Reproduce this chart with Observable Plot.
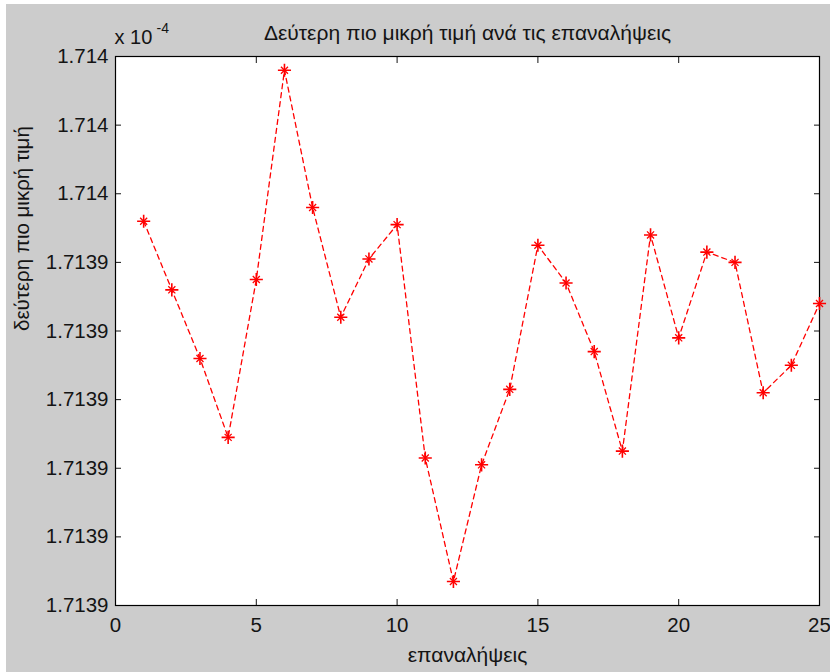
<!DOCTYPE html>
<html>
<head>
<meta charset="utf-8">
<script src="https://cdn.jsdelivr.net/npm/d3@7"></script>
<script src="https://cdn.jsdelivr.net/npm/@observablehq/plot@0.6"></script>
<style>
  html, body { margin: 0; padding: 0; background: #ffffff; width: 830px; height: 672px; overflow: hidden; }
  #bg { position: absolute; left: 6px; top: 4px; width: 824px; height: 668px; background: #cccccc; }
  #chart { position: absolute; left: 0; top: 0; }
</style>
</head>
<body>
<div id="bg"></div>
<div id="chart"></div>
<script>
// ---- data (values in units of 1e-4) ----
const iterations = [1, 2, 3, 4, 5, 6, 7, 8, 9, 10, 11, 12, 13, 14, 15, 16, 17, 18, 19, 20, 21, 22, 23, 24, 25];
const secondSmallest = [
  1.7139502, 1.7139482, 1.7139462, 1.7139439, 1.7139485,
  1.7139546, 1.7139506, 1.7139474, 1.7139491, 1.7139501,
  1.7139433, 1.7139397, 1.7139431, 1.7139453, 1.7139495,
  1.7139484, 1.7139464, 1.7139435, 1.7139498, 1.7139468,
  1.7139493, 1.7139490, 1.7139452, 1.7139460, 1.7139478
];
const xTicks = [0, 5, 10, 15, 20, 25];
const yTicks = [1.713939, 1.713941, 1.713943, 1.713945, 1.713947, 1.713949, 1.713951, 1.713953, 1.713955];
const yTickLabels = ["1.7139", "1.7139", "1.7139", "1.7139", "1.7139", "1.7139", "1.714", "1.714", "1.714"];
const titleText = "Δεύτερη πιο μικρή τιμή ανά τις επαναλήψεις";
const xLabelText = "επαναλήψεις";
const yLabelText = "δεύτερη πιο μικρή τιμή";
const exponentBase = "x 10";
const exponentPower = "-4";

const data = iterations.map((it, i) => ({it, v: secondSmallest[i]}));

const font = "'Liberation Sans', Arial, Helvetica, sans-serif";
const ink = "#141414";
const red = "#ff0000";

const chart = Plot.plot({
  width: 830,
  height: 672,
  marginLeft: 115,
  marginRight: 11,
  marginTop: 56,
  marginBottom: 67,
  style: {background: "transparent", fontFamily: font, fontSize: "20px", color: ink, overflow: "visible"},
  x: {domain: [0, 25]},
  y: {domain: [yTicks[0], yTicks[yTicks.length - 1]]},
  marks: [
    Plot.frame({fill: "white"}),
    // inward ticks on all four sides
    Plot.axisX({anchor: "bottom", ticks: xTicks, tickSize: 6, dy: -6, tickFormat: () => "", label: null, stroke: ink}),
    Plot.axisX({anchor: "top", ticks: xTicks, tickSize: 6, dy: 6, tickFormat: () => "", label: null, stroke: ink}),
    Plot.axisY({anchor: "left", ticks: yTicks, tickSize: 6, dx: 6, tickFormat: () => "", label: null, stroke: ink}),
    Plot.axisY({anchor: "right", ticks: yTicks, tickSize: 6, dx: -6, tickFormat: () => "", label: null, stroke: ink}),
    // tick labels
    Plot.axisX({anchor: "bottom", ticks: xTicks, tickSize: 0, tickPadding: 12, fontSize: 20.5, fill: ink, label: null, tickFormat: d => String(d)}),
    Plot.axisY({anchor: "left", ticks: yTicks, tickSize: 0, tickPadding: 7, fontSize: 20.5, fill: ink, label: null,
      tickFormat: d => yTickLabels[yTicks.indexOf(d)]}),
    Plot.frame({stroke: "black", strokeWidth: 1.2}),
    // data
    Plot.line(data, {x: "it", y: "v", stroke: red, strokeWidth: 1.3, strokeDasharray: "5,4"}),
    Plot.dot(data, {x: "it", y: "v", symbol: "plus", r: 4.3, stroke: red, strokeWidth: 1.6}),
    Plot.dot(data, {x: "it", y: "v", symbol: "times", r: 3.3, stroke: red, strokeWidth: 1.3}),
    // texts
    Plot.text([titleText], {frameAnchor: "top", lineAnchor: "middle", dy: -23.5, fontSize: 21, fill: ink}),
    Plot.text([xLabelText], {frameAnchor: "bottom", lineAnchor: "middle", dy: 50, fontSize: 21, fill: ink}),
    Plot.text([yLabelText], {frameAnchor: "left", lineAnchor: "middle", dx: -93, rotate: -90, fontSize: 20.5, fill: ink}),
    Plot.text([exponentBase], {frameAnchor: "top-left", lineAnchor: "middle", textAnchor: "start", dx: -1, dy: -18.5, fontSize: 20, fill: ink}),
    Plot.text([exponentPower], {frameAnchor: "top-left", lineAnchor: "middle", textAnchor: "start", dx: 41, dy: -27.5, fontSize: 14, fill: ink})
  ]
});
document.getElementById("chart").appendChild(chart);
</script>
</body>
</html>
